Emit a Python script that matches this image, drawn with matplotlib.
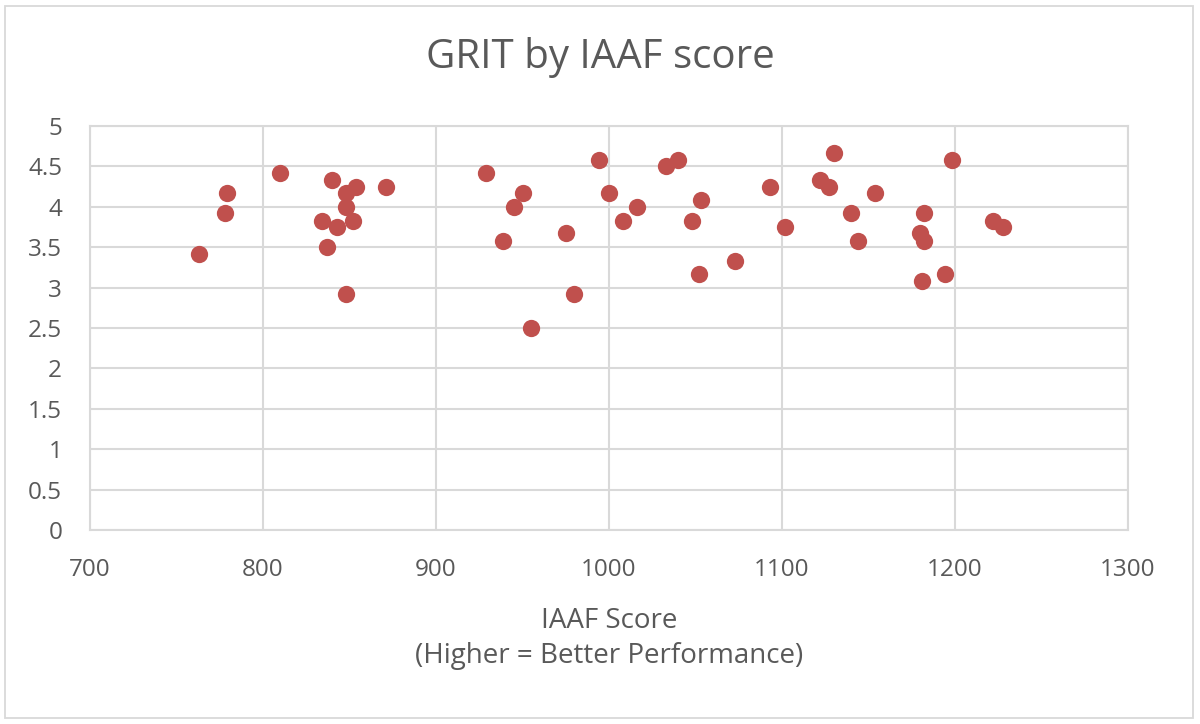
import matplotlib.pyplot as plt
from matplotlib.patches import Rectangle

# IAAF score (x) and GRIT score (y)
iaaf = [763, 778, 779, 810, 840, 848, 854, 871, 848, 834, 852, 843, 837, 848,
        929, 950, 945, 939, 975, 980, 955, 994, 1000, 1008, 1016, 1033, 1040,
        1053, 1048, 1052, 1073, 1093, 1102, 1130, 1122, 1127, 1140, 1144,
        1154, 1198, 1182, 1180, 1182, 1181, 1194, 1222, 1228]
grit = [3.42, 3.92, 4.17, 4.42, 4.33, 4.17, 4.25, 4.25, 4.0, 3.83, 3.83, 3.75, 3.5, 2.92,
        4.42, 4.17, 4.0, 3.58, 3.67, 2.92, 2.5, 4.58, 4.17, 3.83, 4.0, 4.5, 4.58,
        4.08, 3.83, 3.17, 3.33, 4.25, 3.75, 4.67, 4.33, 4.25, 3.92, 3.58,
        4.17, 4.58, 3.92, 3.67, 3.58, 3.08, 3.17, 3.83, 3.75]

x_ticks = [700, 800, 900, 1000, 1100, 1200, 1300]
y_ticks = [0, 0.5, 1, 1.5, 2, 2.5, 3, 3.5, 4, 4.5, 5]

plt.rcParams["font.family"] = ["Open Sans", "DejaVu Sans"]
text_color = "#595959"
grid_color = "#D9D9D9"

fig = plt.figure(figsize=(12, 7.24), dpi=100)
ax = fig.add_axes([0.075, 0.268, 0.865, 0.558])

ax.scatter(iaaf, grit, s=155, color="#C0504D", zorder=3, linewidths=0)

ax.set_xlim(700, 1300)
ax.set_ylim(0, 5)
ax.set_xticks(x_ticks)
ax.set_yticks(y_ticks)
ax.set_yticklabels([f"{v:g}" for v in y_ticks])
ax.tick_params(length=0, labelsize=17.5, colors=text_color)
ax.tick_params(axis="x", pad=20)
ax.tick_params(axis="y", pad=20)
ax.grid(True, color=grid_color, linewidth=1.5)
ax.set_axisbelow(True)
for sp in ax.spines.values():
    sp.set_color(grid_color)
    sp.set_linewidth(1.5)

ax.set_xlabel("IAAF Score\n(Higher = Better Performance)", fontsize=20,
              color=text_color, labelpad=18, linespacing=1.35)
fig.text(0.5, 0.92, "GRIT by IAAF score", ha="center", va="center",
         fontsize=29, color=text_color)

fig.patches.append(Rectangle((0.004, 0.008), 0.99, 0.984, transform=fig.transFigure,
                             fill=False, edgecolor=grid_color, linewidth=1.3))

fig.savefig("out.png", dpi=100)
